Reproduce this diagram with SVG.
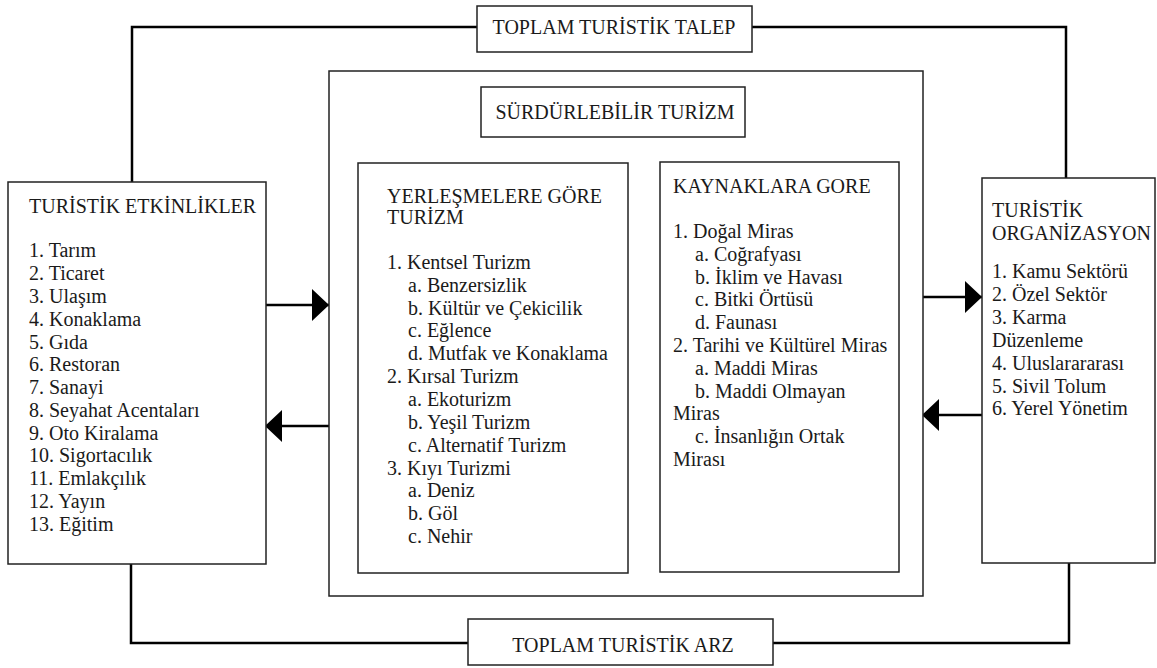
<svg xmlns="http://www.w3.org/2000/svg" width="1157" height="668" viewBox="0 0 1157 668">
<style>
.box{fill:#fff;stroke:#222;stroke-width:1.5}
.con{fill:none;stroke:#000;stroke-width:2.5}
.t{font-family:'Liberation Serif','DejaVu Serif',serif;font-size:20px;fill:#1a1a1a}
</style>
<defs>
<marker id="ah" markerUnits="userSpaceOnUse" markerWidth="17" markerHeight="32" refX="17" refY="16" orient="auto">
<path d="M0,0 L17,16 L0,32 z" fill="#000"/>
</marker>
</defs>
<rect width="1157" height="668" fill="#fff"/>
<g id="connectors">
<polyline class="con" points="132,182 132,27 477,27"/>
<polyline class="con" points="752,27 1066,27 1066,178"/>
<polyline class="con" points="131,564 131,643 468,643"/>
<polyline class="con" points="773,643 1069,643 1069,563"/>
<line class="con" x1="266" y1="305" x2="329" y2="305" marker-end="url(#ah)"/>
<line class="con" x1="329" y1="426" x2="265" y2="426" marker-end="url(#ah)"/>
<line class="con" x1="923" y1="297" x2="982" y2="297" marker-end="url(#ah)"/>
<line class="con" x1="982" y1="415" x2="922" y2="415" marker-end="url(#ah)"/>
</g>
<g class="t" font-family="Liberation Serif, serif" font-size="20">
<g id="talep">
<rect class="box" x="477" y="6" width="275" height="46"/>
<text x="614" y="34" text-anchor="middle">TOPLAM TURİSTİK TALEP</text>
</g>
<g id="arz">
<rect class="box" x="468" y="619" width="305" height="46"/>
<text x="623" y="652" text-anchor="middle">TOPLAM TURİSTİK ARZ</text>
</g>
<g id="surdurulebilir">
<rect class="box" x="329" y="71" width="594" height="525"/>
</g>
<g id="surdurulebilir-baslik">
<rect class="box" x="481" y="87" width="264" height="50"/>
<text x="615" y="119" text-anchor="middle">SÜRDÜRLEBİLİR TURİZM</text>
</g>
<g id="etkinlikler">
<rect class="box" x="8" y="182" width="258" height="382"/>
<text x="29" y="213">TURİSTİK ETKİNLİKLER</text>
<text x="29" y="257">1. Tarım</text>
<text x="29" y="280">2. Ticaret</text>
<text x="29" y="303">3. Ulaşım</text>
<text x="29" y="326">4. Konaklama</text>
<text x="29" y="349">5. Gıda</text>
<text x="29" y="371">6. Restoran</text>
<text x="29" y="394">7. Sanayi</text>
<text x="29" y="417">8. Seyahat Acentaları</text>
<text x="29" y="440">9. Oto Kiralama</text>
<text x="29" y="462">10. Sigortacılık</text>
<text x="29" y="485">11. Emlakçılık</text>
<text x="29" y="508">12. Yayın</text>
<text x="29" y="531">13. Eğitim</text>
</g>
<g id="yerlesmeler">
<rect class="box" x="358" y="163" width="270" height="410"/>
<text x="387" y="203">YERLEŞMELERE GÖRE</text>
<text x="387" y="224">TURİZM</text>
<text x="387" y="269">1. Kentsel Turizm</text>
<text x="408" y="292">a. Benzersizlik</text>
<text x="408" y="315">b. Kültür ve Çekicilik</text>
<text x="408" y="337">c. Eğlence</text>
<text x="408" y="360">d. Mutfak ve Konaklama</text>
<text x="387" y="383">2. Kırsal Turizm</text>
<text x="408" y="406">a. Ekoturizm</text>
<text x="408" y="429">b. Yeşil Turizm</text>
<text x="408" y="452">c. Alternatif Turizm</text>
<text x="387" y="475">3. Kıyı Turizmi</text>
<text x="408" y="497">a. Deniz</text>
<text x="408" y="520">b. Göl</text>
<text x="408" y="543">c. Nehir</text>
</g>
<g id="kaynaklar">
<rect class="box" x="660" y="162" width="239" height="410"/>
<text x="673" y="193">KAYNAKLARA GORE</text>
<text x="673" y="238">1. Doğal Miras</text>
<text x="695" y="261">a. Coğrafyası</text>
<text x="695" y="284">b. İklim ve Havası</text>
<text x="695" y="306">c. Bitki Örtüsü</text>
<text x="695" y="329">d. Faunası</text>
<text x="673" y="352">2. Tarihi ve Kültürel Miras</text>
<text x="695" y="375">a. Maddi Miras</text>
<text x="695" y="398">b. Maddi Olmayan</text>
<text x="673" y="420">Miras</text>
<text x="695" y="443">c. İnsanlığın Ortak</text>
<text x="673" y="466">Mirası</text>
</g>
<g id="organizasyon">
<rect class="box" x="982" y="178" width="173" height="385"/>
<text x="992" y="217">TURİSTİK</text>
<text x="992" y="240">ORGANİZASYON</text>
<text x="992" y="278">1. Kamu Sektörü</text>
<text x="992" y="301">2. Özel Sektör</text>
<text x="992" y="324">3. Karma</text>
<text x="992" y="347">Düzenleme</text>
<text x="992" y="370">4. Uluslarararası</text>
<text x="992" y="393">5. Sivil Tolum</text>
<text x="992" y="415">6. Yerel Yönetim</text>
</g>
</g>
</svg>
